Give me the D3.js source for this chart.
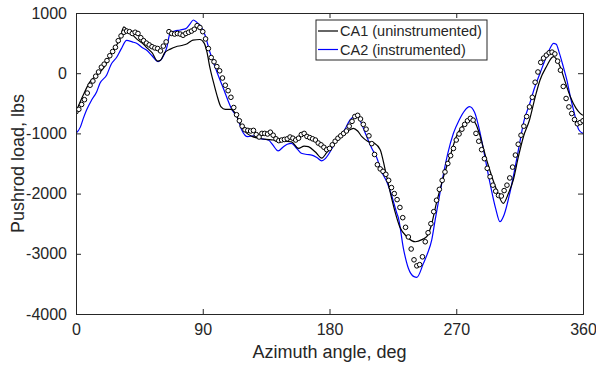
<!DOCTYPE html>
<html><head><meta charset="utf-8">
<script src="https://cdn.jsdelivr.net/npm/d3@7"></script>
<style>body{margin:0;background:#fff;} text{font-family:"Liberation Sans",Arial,sans-serif;fill:#262626;}</style>
</head><body>
<svg id="c" width="596" height="366"></svg>
<script>
// CA1 (uninstrumented) — black line
const ca1Angle = [0,5,10,15,20,24,27,31,34,37,40,43,47,50,54,58,60,63,67,71,75,79,83,88,91,93,95,97.5,100,103,106,110,113,117,121,125,130,135,140,144,148,153,158,162,165,170,174.5,178,182,186,190,193,197,200,203,207,212,216,219.5,223,226.5,230,235,241,246,249,252,256,261,266,270,275,281,284,286,291.6,298.7,303.4,307,310.5,314,317.7,322,326,329.5,334,339,343.8,347,351,355,358,360];
const ca1Load = [-640,-370,-140,-30,100,274,400,560,770,700,640,570,500,430,340,200,215,340,400,440,460,490,550,560,500,350,100,-140,-360,-560,-600,-600,-660,-860,-990,-1050,-1080,-1100,-1110,-1140,-1130,-1140,-1250,-1210,-1220,-1310,-1410,-1320,-1200,-1060,-1000,-960,-915,-960,-1055,-1130,-1165,-1270,-1600,-1968,-2300,-2560,-2716,-2800,-2760,-2716,-2550,-2150,-1718,-1350,-1055,-860,-749,-850,-972,-1442,-1940,-2161,-2000,-1774,-1400,-1055,-777,-400,-113,108,274,108,-120,-390,-580,-667,-700];

// CA2 (instrumented) — blue line
const ca2Angle = [0,3,5.2,7.5,11,14.7,17,21.8,25,29,32,36,40,43,47.8,50,54,58.4,61,64.4,66.8,70,73.9,78,81,83.3,86,88,91.6,95,100,104.6,110.6,115,117.7,122,126,129.5,136.6,140,142.5,143.5,147.3,150,153,156,160,164,167.4,171,174.5,177,179,182,184,187,190,194.6,197,199.4,202,205,210,213.5,217,220.6,224,227.8,229,232.4,236,240,242,246.7,249.5,252.6,255,258,261,264,268,272,276,279.4,283,287,290,294,298,301,304,308,311.5,315,318,322,325.5,329.5,334,337,339,341,343,346,348.6,351,354,357,360];
const ca2Load = [-1000,-900,-750,-611,-450,-307,-168,-30,150,270,400,545,520,497,413,385,290,191,240,420,663,700,718,740,820,884,840,800,635,357,25,-251,-600,-760,-943,-1055,-1040,-1080,-1110,-1200,-1276,-1290,-1220,-1180,-1165,-1230,-1330,-1350,-1360,-1400,-1458,-1420,-1359,-1240,-1138,-1050,-972,-777,-722,-694,-800,-972,-1248,-1400,-1636,-1800,-2023,-2327,-2410,-2900,-3241,-3380,-3390,-3158,-3000,-2770,-2440,-2050,-1663,-1330,-998,-780,-620,-556,-650,-998,-1350,-1830,-2250,-2467,-2350,-1995,-1600,-1165,-800,-520,-250,0,274,430,496,480,350,108,-120,-390,-680,-940,-1000];

// Measured data (circles), every 2 degrees
const measAngle = d3.range(0, 361, 2);
const measLoad = [-640,-600,-520,-440,-330,-200,-130,-50,20,100,150,210,290,360,430,540,620,680,700,690,660,680,660,590,540,500,470,440,420,410,370,450,520,690,660,650,660,650,630,660,680,700,730,790,760,690,570,410,260,190,110,40,-80,-200,-290,-400,-570,-690,-790,-880,-940,-950,-960,-950,-1020,-1060,-1000,-1000,-1010,-980,-1030,-1090,-1120,-1110,-1100,-1090,-1060,-1080,-1110,-1080,-1020,-1000,-1050,-1070,-1090,-1110,-1160,-1190,-1230,-1270,-1250,-1190,-1130,-1080,-1040,-1000,-960,-880,-800,-720,-700,-760,-850,-930,-1040,-1170,-1350,-1520,-1590,-1630,-1680,-1780,-1900,-2000,-2100,-2230,-2400,-2560,-2720,-2920,-3100,-3200,-3180,-3050,-2800,-2650,-2500,-2300,-2110,-1930,-1780,-1640,-1500,-1370,-1250,-1110,-1010,-930,-850,-790,-750,-780,-1000,-1130,-1270,-1420,-1580,-1720,-1860,-1960,-2030,-2040,-1950,-1860,-1740,-1560,-1360,-1180,-1030,-880,-720,-560,-400,-150,20,180,250,300,340,350,320,200,50,-220,-420,-560,-670,-770,-840,-820,-790];

const xTicks = [0,90,180,270,360];
const yTicks = [-4000,-3000,-2000,-1000,0,1000];
const seriesNames = ["CA1 (uninstrumented)","CA2 (instrumented)"];
const seriesColors = ["#000000","#0000ff"];

const svg = d3.select("#c");
const L = 76, R = 583, T = 13, B = 314;
const x = d3.scaleLinear().domain([0,360]).range([L,R]);
const y = d3.scaleLinear().domain([-4000,1000]).range([B,T]);
const axisCol = "#262626";
const fmt = d => String(d);

const line = d3.line().x(d=>x(d[0])).y(d=>y(d[1])).curve(d3.curveMonotoneX);
svg.append("clipPath").attr("id","cp").append("rect").attr("x",L).attr("y",T).attr("width",R-L).attr("height",B-T);
const g = svg.append("g").attr("clip-path","url(#cp)");

g.append("path").datum(d3.zip(ca2Angle, ca2Load)).attr("d",line).attr("fill","none").attr("stroke",seriesColors[1]).attr("stroke-width",1.2);
g.append("path").datum(d3.zip(ca1Angle, ca1Load)).attr("d",line).attr("fill","none").attr("stroke",seriesColors[0]).attr("stroke-width",1.2);
g.selectAll("circle").data(d3.zip(measAngle, measLoad)).join("circle")
  .attr("cx",d=>x(d[0])).attr("cy",d=>y(d[1])).attr("r",2.3)
  .attr("fill","#fff").attr("stroke","#000").attr("stroke-width",1);

// axes
const ax = svg.append("g").attr("transform",`translate(0,${B})`).call(d3.axisBottom(x).tickValues(xTicks).tickSize(-5).tickPadding(10).tickFormat(fmt));
const axT = svg.append("g").attr("transform",`translate(0,${T})`).call(d3.axisTop(x).tickValues(xTicks).tickSize(-5).tickFormat(""));
const ay = svg.append("g").attr("transform",`translate(${L},0)`).call(d3.axisLeft(y).tickValues(yTicks).tickSize(-5).tickPadding(9).tickFormat(fmt));
const ayR = svg.append("g").attr("transform",`translate(${R},0)`).call(d3.axisRight(y).tickValues(yTicks).tickSize(-5).tickFormat(""));
[ax,axT,ay,ayR].forEach(a=>{
  a.select(".domain").attr("stroke",axisCol).attr("stroke-width",1);
  a.selectAll(".tick line").attr("stroke",axisCol);
  a.selectAll("text").attr("font-size",16).attr("fill",axisCol).attr("font-family","Liberation Sans, Arial, sans-serif");
});

svg.append("text").attr("x",(L+R)/2).attr("y",358).attr("text-anchor","middle").attr("font-size",18).text("Azimuth angle, deg");
svg.append("text").attr("transform",`translate(24,${(T+B)/2}) rotate(-90)`).attr("text-anchor","middle").attr("font-size",18).text("Pushrod load, lbs");

// legend
const lg = svg.append("g");
lg.append("rect").attr("x",316).attr("y",20).attr("width",171).attr("height",40).attr("fill","#fff").attr("stroke",axisCol).attr("stroke-width",1);
seriesNames.forEach((n,i)=>{
  const yy = 31 + i*18.5;
  lg.append("line").attr("x1",318).attr("x2",338).attr("y1",yy).attr("y2",yy).attr("stroke",seriesColors[i]).attr("stroke-width",1.2);
  lg.append("text").attr("x",340).attr("y",yy+5.3).attr("font-size",14.5).text(n);
});
</script>
</body></html>
